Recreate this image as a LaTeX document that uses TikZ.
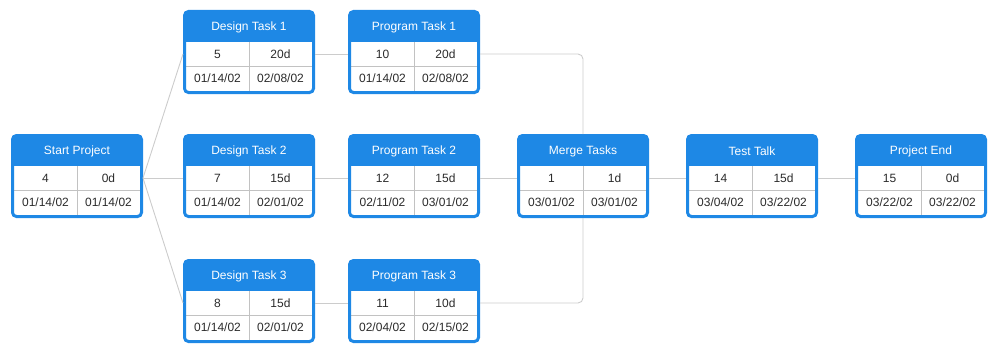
\documentclass[tikz,border=0pt]{standalone}
\usepackage{fontspec}
\setmainfont{Liberation Sans}
\definecolor{taskblue}{HTML}{1E88E5}
\definecolor{linkgray}{HTML}{CCCCCC}
\definecolor{cellgray}{HTML}{C2C2C2}
\definecolor{textgray}{HTML}{2B2B2B}
\tikzset{
  taskframe/.style={rectangle,fill=taskblue,rounded corners=4pt,minimum width=129pt,
    minimum height=81pt,inner sep=0pt,outer sep=0pt},
  taskborder/.style={draw=taskblue,line width=3pt,rounded corners=4pt},
  cellline/.style={draw=cellgray,line width=0.8pt},
  tasktitle/.style={text=white,font=\fontsize{12}{14}\selectfont,inner sep=0pt},
  celltext/.style={text=textgray,font=\fontsize{12}{14}\selectfont,inner sep=0pt},
  link/.style={draw=linkgray,line width=0.9pt,rounded corners=5pt}
}
\newcommand{\pertbox}[8]{%
  \node[taskframe] (#1) at (#2) {};
  \fill[white] ([yshift=-30.5pt]#1.north west) rectangle (#1.south east);
  \draw[cellline] ([yshift=-54.5pt]#1.north west) -- ([yshift=-54.5pt]#1.north east);
  \draw[cellline] ([yshift=-30.5pt]#1.north) -- (#1.south);
  \draw[taskborder] (#1.north west) rectangle (#1.south east);
  \node[tasktitle] (#1-title) at ([yshift=-15.5pt]#1.north) {#3};
  \node[celltext] (#1-id) at ([xshift=-31.5pt,yshift=-42.5pt]#1.north) {#4};
  \node[celltext] (#1-dur) at ([xshift=31.5pt,yshift=-42.5pt]#1.north) {#5};
  \node[celltext] (#1-start) at ([xshift=-31.5pt,yshift=-67pt]#1.north) {#6};
  \node[celltext] (#1-end) at ([xshift=31.5pt,yshift=-67pt]#1.north) {#7};
  \coordinate (#1-in) at ([xshift=-1.5pt,yshift=-42.5pt]#1.north west);
  \coordinate (#1-out) at ([xshift=1.5pt,yshift=-42.5pt]#1.north east);
  \coordinate (#1-top) at ([yshift=1.5pt]#1.north);
  \coordinate (#1-bot) at ([yshift=-1.5pt]#1.south);
}
\begin{document}
\begin{tikzpicture}[x=1pt,y=-1pt]
  \useasboundingbox (0,0) rectangle (1000,353);
  \pertbox{start}{77,176}{Start Project}{4}{0d}{01/14/02}{01/14/02}{}
  \pertbox{design1}{249,52}{Design Task 1}{5}{20d}{01/14/02}{02/08/02}{}
  \pertbox{design2}{249,176}{Design Task 2}{7}{15d}{01/14/02}{02/01/02}{}
  \pertbox{design3}{249,301}{Design Task 3}{8}{15d}{01/14/02}{02/01/02}{}
  \pertbox{prog1}{414,52}{Program Task 1}{10}{20d}{01/14/02}{02/08/02}{}
  \pertbox{prog2}{414,176}{Program Task 2}{12}{15d}{02/11/02}{03/01/02}{}
  \pertbox{prog3}{414,301}{Program Task 3}{11}{10d}{02/04/02}{02/15/02}{}
  \pertbox{merge}{583,176}{Merge Tasks}{1}{1d}{03/01/02}{03/01/02}{}
  \pertbox{test}{752,176}{Test Talk}{14}{15d}{03/04/02}{03/22/02}{}
  \pertbox{finish}{921,176}{Project End}{15}{0d}{03/22/02}{03/22/02}{}
  \draw[link] (start-out) -- (design1-in);
  \draw[link] (start-out) -- (design2-in);
  \draw[link] (start-out) -- (design3-in);
  \draw[link] (design1-out) -- (prog1-in);
  \draw[link] (design2-out) -- (prog2-in);
  \draw[link] (design3-out) -- (prog3-in);
  \draw[link] (prog1-out) -| (merge-top);
  \draw[link] (prog2-out) -- (merge-in);
  \draw[link] (prog3-out) -| (merge-bot);
  \draw[link] (merge-out) -- (test-in);
  \draw[link] (test-out) -- (finish-in);
\end{tikzpicture}
\end{document}
